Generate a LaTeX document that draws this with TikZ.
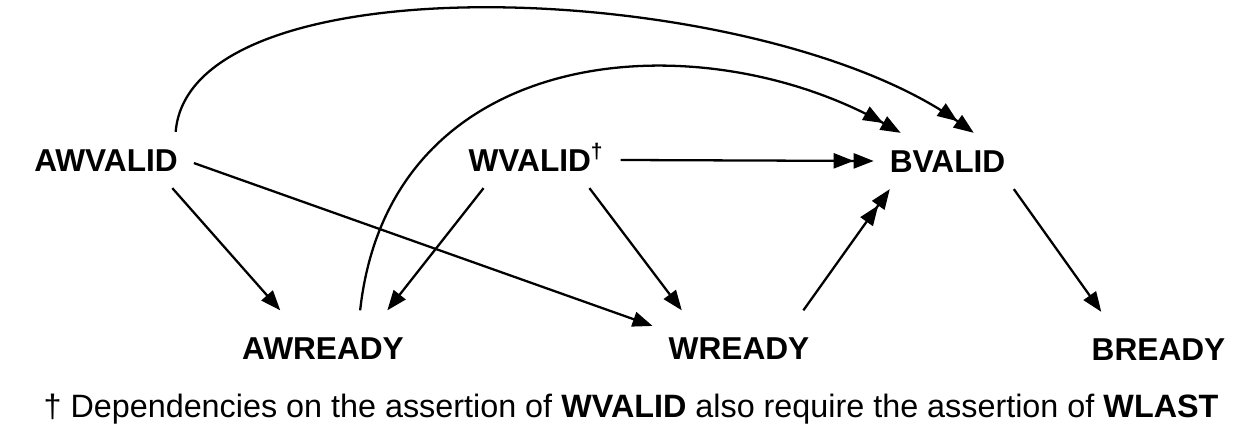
\documentclass[tikz,border=0pt]{standalone}
\usepackage{fontspec}
\setmainfont{Liberation Sans}
\usetikzlibrary{arrows.meta}

\begin{document}
\begin{tikzpicture}[->, >={Triangle[length=2mm,width=1.5mm]}, line width=0.65pt]
   \useasboundingbox (0,0) rectangle (12.45,-4.37);
   \tikzstyle{main}=[font=\bfseries\fontsize{9}{11}\selectfont, text height=2.4mm, text depth=0pt, inner xsep=1.5mm, inner ysep=1.5mm]
   \tikzstyle{ready}=[main, inner ysep=2.4mm]
   \node[main] (awvalid) at (1.06,-1.60) {AWVALID};
   \node[main] (wvalid) at (5.365,-1.60) {WVALID\textsuperscript{\dag}};
   \node[main] (bvalid) at (9.475,-1.61) {BVALID};
   \node[ready] (awready) at (3.23,-3.475) {AWREADY};
   \node[ready] (wready) at (7.39,-3.475) {WREADY};
   \node[ready] (bready) at (11.585,-3.49) {BREADY};
   \path (awvalid.-23) edge (awready.139);
   \path (awvalid.-2) edge (wready.166);
   \path (wvalid.208) edge (awready.30);
   \path (wvalid.-28) edge (wready.147);
   \path (wready.30) edge[->>] (bvalid.-154);
   \path (wvalid.east) edge[->>] (bvalid.west);
   \path (bvalid.-23) edge (bready.147);
   \draw[->>] (awvalid.22) .. controls (1.90,0.45) and (7.60,0.20) .. (bvalid.47);
   \draw[->>] (awready.45) .. controls (3.90,-0.40) and (7.00,-0.20) .. (bvalid.149);
   \node[anchor=base, font=\fontsize{9.2}{11}\selectfont] (note) at (6.31,-4.18) {\dag{} Dependencies on the assertion of \textbf{WVALID} also require the assertion of \textbf{WLAST}};
\end{tikzpicture}
\end{document}
